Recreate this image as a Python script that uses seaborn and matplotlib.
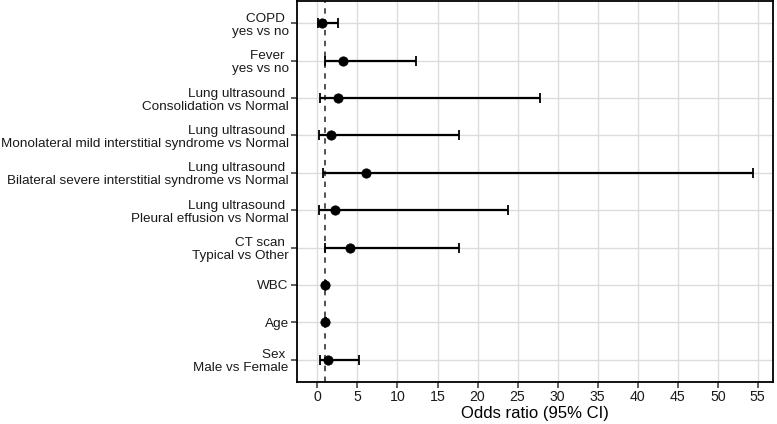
import matplotlib
matplotlib.use("Agg")
import matplotlib.pyplot as plt
import seaborn as sns
import pandas as pd

labels = [
    "COPD \nyes vs no",
    "Fever \nyes vs no",
    "Lung ultrasound \nConsolidation vs Normal",
    "Lung ultrasound \nMonolateral mild interstitial syndrome vs Normal",
    "Lung ultrasound \nBilateral severe interstitial syndrome vs Normal",
    "Lung ultrasound \nPleural effusion vs Normal",
    "CT scan \nTypical vs Other",
    "WBC",
    "Age",
    "Sex \nMale vs Female",
]
odds = [0.62, 3.24, 2.57, 1.74, 6.02, 2.16, 4.03, 1.0, 1.0, 1.33]
lower = [0.08, 0.91, 0.29, 0.16, 0.75, 0.25, 0.95, 0.98, 0.98, 0.37]
upper = [2.57, 12.26, 27.85, 17.74, 54.4, 23.85, 17.74, 1.02, 1.02, 5.19]
xticks = [0, 5, 10, 15, 20, 25, 30, 35, 40, 45, 50, 55]

df = pd.DataFrame({"label": labels, "odds": odds, "lower": lower, "upper": upper})

sns.set_theme(style="whitegrid")
plt.rcParams["font.family"] = ["Liberation Sans", "DejaVu Sans"]

fig = plt.figure(figsize=(7.77, 4.24), dpi=100)
ax = fig.add_axes([297 / 777, 1 - 382 / 424, 476 / 777, 381 / 424])

ypos = list(range(len(labels)))
ax.errorbar(df["odds"], ypos,
            xerr=[df["odds"] - df["lower"], df["upper"] - df["odds"]],
            fmt="none", ecolor="black", elinewidth=1.6, capsize=3.5,
            capthick=1.3, zorder=3)
sns.scatterplot(data=df, x="odds", y="label", ax=ax, color="black",
                s=45, marker="o", edgecolor="black", zorder=4, legend=False)
ax.axvline(1, color="#444444", linestyle=(0, (3, 3)), linewidth=1.3, zorder=2)

ax.set_xlim(-2.55, 56.9)
ax.set_ylim(9.6, -0.6)
ax.set_xticks(xticks)
ax.set_yticks(ypos)
ax.set_yticklabels(labels, fontsize=9.7, color="#1a1a1a", ha="right",
                   linespacing=1.1)
ax.set_xticklabels([str(t) for t in xticks], fontsize=10.2, color="#1a1a1a")
ax.set_xlabel("Odds ratio (95% CI)", fontsize=12, color="black", labelpad=1)
ax.set_ylabel("")

ax.grid(True, color="#dcdcdc", linewidth=1.0)
for s in ax.spines.values():
    s.set_visible(True)
    s.set_color("black")
    s.set_linewidth(1.3)
ax.tick_params(axis="both", which="major", length=4, width=1.1,
               color="#333333", direction="out", pad=2,
               bottom=True, left=True)

fig.savefig("out.png", dpi=100)
